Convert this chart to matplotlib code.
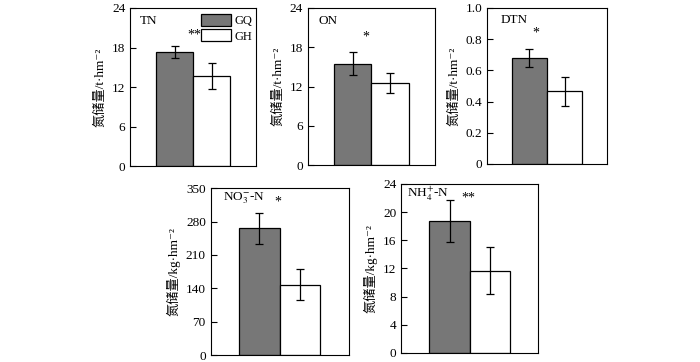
import matplotlib
matplotlib.use('Agg')
import matplotlib.pyplot as plt
from matplotlib.patches import Patch

plt.rcParams['font.family'] = ['Liberation Serif', 'DejaVu Serif', 'Noto Sans CJK SC']
plt.rcParams['mathtext.fontset'] = 'stix'

groups = ['GQ', 'GH']
panels = ['TN', 'ON', 'DTN', 'NO$_3^{-}$-N', 'NH$_4^{+}$-N']
means = [[17.3, 13.7], [15.5, 12.5], [0.68, 0.465], [266, 148], [18.7, 11.7]]
errs = [[0.9, 2.0], [1.7, 1.5], [0.058, 0.093], [33, 33], [3.0, 3.3]]
signif = ['**', '*', '*', '*', '**']
signif_y = [19.9, 19.6, 0.84, 321, 22.0]
signif_x = [0.53, 0.35, 0.17, 0.45, 0.47]
ymax = [24, 24, 1.0, 350, 24]
yticks = [[0, 6, 12, 18, 24], [0, 6, 12, 18, 24], [0, 0.2, 0.4, 0.6, 0.8, 1.0],
          [0, 70, 140, 210, 280, 350], [0, 4, 8, 12, 16, 20, 24]]
ytick_labels = [None, None, ['0', '0.2', '0.4', '0.6', '0.8', '1.0'], None, None]
units = ['t·hm⁻²', 't·hm⁻²', 't·hm⁻²', 'kg·hm⁻²', 'kg·hm⁻²']
colors = ['#777777', 'white']

# axes rectangles in figure fractions
rects = [[0.186, 0.541, 0.180, 0.437],
         [0.440, 0.544, 0.181, 0.434],
         [0.696, 0.547, 0.171, 0.431],
         [0.301, 0.019, 0.197, 0.461],
         [0.573, 0.025, 0.196, 0.467]]
name_pos = [(0.08, 0.92), (0.08, 0.92), (0.11, 0.92), (0.09, 0.94), (0.04, 0.94)]

fig = plt.figure(figsize=(7, 3.62), dpi=100)

for i in range(5):
    ax = fig.add_axes(rects[i])
    ax.bar([0, 1], means[i], width=1.0, color=colors, edgecolor='black',
           linewidth=0.9, yerr=errs[i], capsize=3,
           error_kw=dict(elinewidth=0.9, capthick=0.9, ecolor='black'))
    ax.set_xlim(-1.2, 2.2)
    ax.set_ylim(0, ymax[i])
    ax.set_yticks(yticks[i])
    if ytick_labels[i] is not None:
        ax.set_yticklabels(ytick_labels[i])
    ax.set_xticks([])
    ax.tick_params(axis='y', direction='in', length=4, width=0.8, labelsize=9.5)
    for s in ax.spines.values():
        s.set_linewidth(0.8)
    ax.set_ylabel('氮储量/' + units[i], fontsize=9.5, labelpad=4)
    ax.text(name_pos[i][0], name_pos[i][1], panels[i], transform=ax.transAxes,
            ha='left', va='center', fontsize=9.5)
    ax.text(signif_x[i], signif_y[i], signif[i], ha='center', va='center',
            fontsize=10)
    if i == 0:
        handles = [Patch(facecolor=colors[k], edgecolor='black', linewidth=0.9)
                   for k in range(2)]
        ax.legend(handles, groups, loc='upper right', frameon=False,
                  bbox_to_anchor=(0.968, 0.965), fontsize=9,
                  handlelength=2.4, handleheight=1.12,
                  handletextpad=0.25, labelspacing=0.2, borderaxespad=0,
                  borderpad=0)

fig.savefig('out.png', dpi=100)
